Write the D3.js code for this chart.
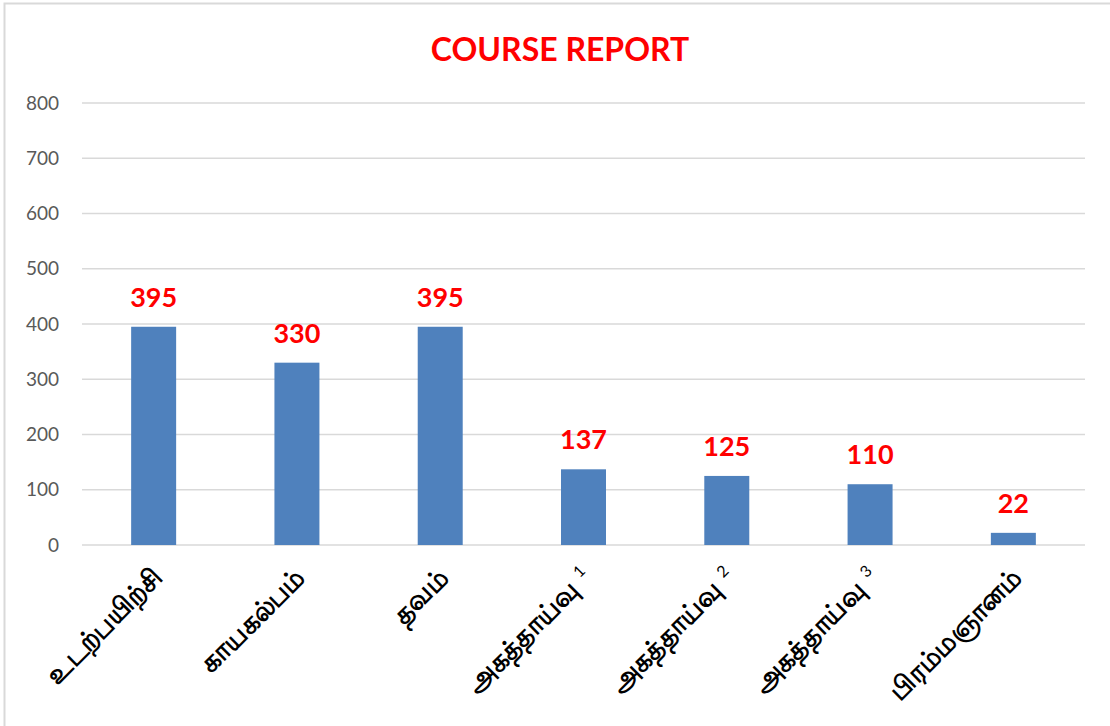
<!DOCTYPE html>
<html>
<head>
<meta charset="utf-8">
<script src="https://cdn.jsdelivr.net/npm/d3@7"></script>
<style>
  body { margin: 0; background: #fff; }
  text { font-family: Lato, "Noto Sans", sans-serif; }
</style>
</head>
<body>
<div id="chart"></div>
<script>
// data
var categories = ["உடற்பயிற்சி", "காயகல்பம்", "தவம்", "அகத்தாய்வு 1", "அகத்தாய்வு 2", "அகத்தாய்வு 3", "பிரம்மஞானம்"];
var values = [395, 330, 395, 137, 125, 110, 22];
var yTicks = [0, 100, 200, 300, 400, 500, 600, 700, 800];
var title = "COURSE REPORT";

var W = 1110, H = 726;
var margin = {top: 103, right: 25, bottom: 181, left: 82},
    width = W - margin.left - margin.right,
    height = H - margin.top - margin.bottom;

var svg = d3.select("#chart").append("svg")
    .attr("width", W)
    .attr("height", H);

// outer frame
svg.append("rect")
    .attr("x", 4.5).attr("y", 3.5)
    .attr("width", W + 10).attr("height", H + 10)
    .attr("fill", "none")
    .attr("stroke", "#d9d9d9")
    .attr("stroke-width", 2);

svg.append("text")
    .attr("x", 560).attr("y", 61)
    .attr("text-anchor", "middle")
    .attr("fill", "#ff0000")
    .style("font-size", "32px")
    .style("font-weight", 700)
    .text(title);

var g = svg.append("g")
    .attr("transform", "translate(" + margin.left + "," + margin.top + ")");

var x = d3.scaleBand()
    .domain(categories)
    .range([0, width])
    .paddingInner(0.686)
    .paddingOuter(0.343);

var y = d3.scaleLinear()
    .domain([0, 800])
    .range([height, 0]);

// gridlines
g.selectAll(".grid")
    .data(yTicks)
    .enter().append("line")
    .attr("class", "grid")
    .attr("x1", 0).attr("x2", width)
    .attr("y1", function(d){ return y(d); })
    .attr("y2", function(d){ return y(d); })
    .attr("stroke", "#d9d9d9")
    .attr("stroke-width", 1.5);

var yAxis = g.append("g")
    .call(d3.axisLeft(y).tickValues(yTicks).tickSize(0).tickPadding(23));
yAxis.select(".domain").remove();
yAxis.selectAll("text")
    .attr("fill", "#595959")
    .style("font-size", "19px")
    .style("font-family", "Lato, sans-serif");

g.selectAll(".bar")
    .data(values)
    .enter().append("rect")
    .attr("class", "bar")
    .attr("x", function(d, i){ return x(categories[i]); })
    .attr("y", function(d){ return y(d); })
    .attr("width", x.bandwidth())
    .attr("height", function(d){ return height - y(d); })
    .attr("fill", "#4f81bd");

g.selectAll(".bar-label")
    .data(values)
    .enter().append("text")
    .attr("class", "bar-label")
    .attr("x", function(d, i){ return x(categories[i]) + x.bandwidth() / 2; })
    .attr("y", function(d){ return y(d) - 20; })
    .attr("text-anchor", "middle")
    .attr("fill", "#ff0000")
    .style("font-size", "27px")
    .style("font-weight", 700)
    .text(function(d){ return d; });

// category labels, rotated
var xAxis = g.append("g")
    .attr("transform", "translate(0," + height + ")")
    .call(d3.axisBottom(x).tickSize(0).tickFormat(""));
xAxis.select(".domain").remove();

xAxis.selectAll(".tick").each(function(d) {
    var parts = d.split(" ");
    var t = d3.select(this).append("text")
        .attr("transform", "translate(10,34) rotate(-45)")
        .attr("text-anchor", "end")
        .attr("fill", "#000")
        .style("font-size", "27px")
        .style("font-weight", 700);
    t.append("tspan").text(parts[0]);
    if (parts[1]) {
        t.append("tspan")
            .attr("dx", 9)
            .attr("dy", -10)
            .style("font-size", "16px")
            .style("font-weight", 400)
            .text(parts[1]);
    }
});
</script>
</body>
</html>
